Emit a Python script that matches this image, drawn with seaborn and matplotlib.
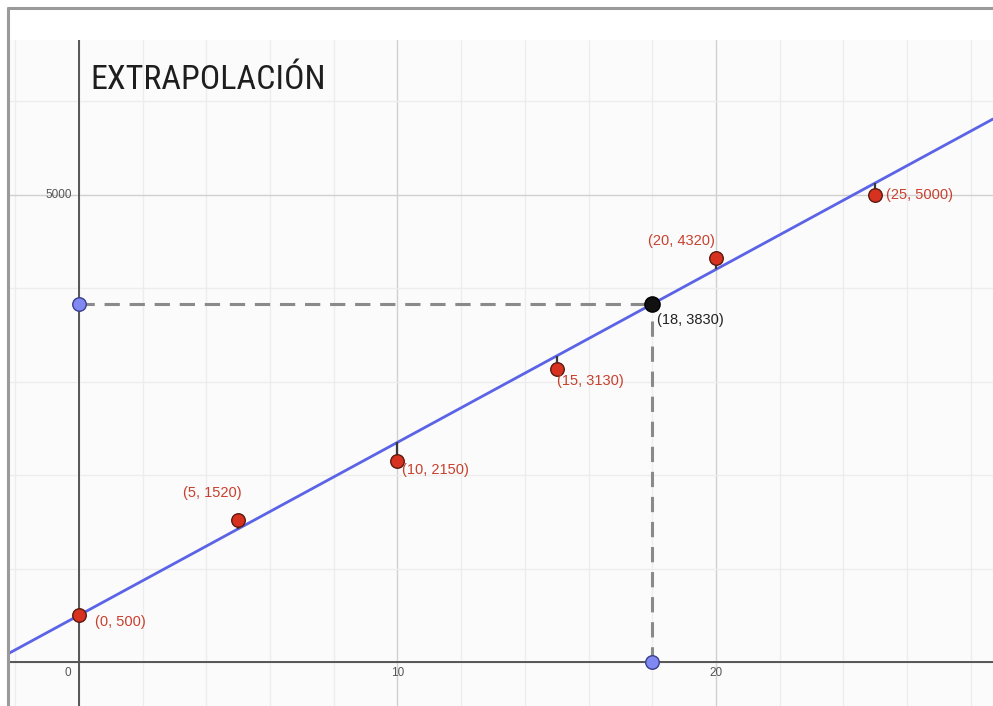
import numpy as np
import pandas as pd
import matplotlib
matplotlib.use("Agg")
import matplotlib.pyplot as plt
from matplotlib import font_manager
import seaborn as sns

# Observed data points
x_obs = [0, 5, 10, 15, 20, 25]
y_obs = [500, 1520, 2150, 3130, 4320, 5000]
obs_labels = ["(0, 500)", "(5, 1520)", "(10, 2150)", "(15, 3130)", "(20, 4320)", "(25, 5000)"]

# Fitted trend line y = intercept + slope * x
intercept = 500
slope = 185

# Extrapolated point
x_pred = 18
y_pred = 3830
pred_label = "(18, 3830)"

# Axis ticks
x_ticks = [0, 10, 20]
x_tick_labels = ["0", "10", "20"]
y_ticks = [5000]
y_tick_labels = ["5000"]

title_text = "EXTRAPOLACIÓN"

sns.set_theme(style="white")
plt.rcParams["font.family"] = ["Arial", "Liberation Sans", "DejaVu Sans"]

available = {f.name for f in font_manager.fontManager.ttflist}
title_family = next((n for n in ["Roboto Condensed", "Liberation Sans Narrow", "Open Sans Condensed"]
                     if n in available), "DejaVu Sans")

fig = plt.figure(figsize=(9.93, 7.06), dpi=100, facecolor="white")
ax = fig.add_axes([8 / 993, 0, 1 - 8 / 993, (706 - 40) / 706])
ax.set_facecolor("#fbfbfb")

xmin, xmax = -2.229, 28.70
ymin, ymax = -471, 6655
ax.set_xlim(xmin, xmax)
ax.set_ylim(ymin, ymax)

# Grid: minor every 2 (x) / 1000 (y), major every 10 (x) / 5000 (y)
for gx in np.arange(-2, 29, 2):
    major = gx % 10 == 0
    ax.axvline(gx, color="#d0d0d0" if major else "#ededed", lw=1.0, zorder=0)
for gy in np.arange(0, 7000, 1000):
    major = gy % 5000 == 0
    ax.axhline(gy, color="#d0d0d0" if major else "#ededed", lw=1.0, zorder=0)

# Main axes
ax.axvline(0, color="#555555", lw=1.4, zorder=1)
ax.axhline(0, color="#555555", lw=1.4, zorder=1)

for s in ax.spines.values():
    s.set_visible(False)
ax.set_xticks([])
ax.set_yticks([])

# Tick labels drawn next to the axes
for tx, tl in zip(x_ticks, x_tick_labels):
    dx = -11 if tx == 0 else 0
    ax.annotate(tl, (tx, 0), xytext=(dx, -11), textcoords="offset pixels",
                ha="center", va="center", fontsize=8.5, color="#555555")
for ty, tl in zip(y_ticks, y_tick_labels):
    ax.annotate(tl, (0, ty), xytext=(-7, 0), textcoords="offset pixels",
                ha="right", va="center", fontsize=8.5, color="#555555")

# Trend line across the view
line_df = pd.DataFrame({"x": [xmin, xmax]})
line_df["y"] = intercept + slope * line_df["x"]
sns.lineplot(data=line_df, x="x", y="y", ax=ax, color="#5b63e6", lw=2.0, zorder=3)

# Residual segments from each point to the line
for xv, yv in zip(x_obs, y_obs):
    ax.plot([xv, xv], [yv, intercept + slope * xv], color="#3a3a3a", lw=1.6, zorder=4,
            solid_capstyle="butt")

# Dashed projections of the extrapolated point
ax.plot([0, x_pred], [y_pred, y_pred], color="#8a8a8a", lw=2.2, ls=(0, (5, 3.2)), zorder=2)
ax.plot([x_pred, x_pred], [0, y_pred], color="#8a8a8a", lw=2.2, ls=(0, (5, 3.2)), zorder=2)

# Observed points
obs_df = pd.DataFrame({"x": x_obs, "y": y_obs})
sns.scatterplot(data=obs_df, x="x", y="y", ax=ax, s=95, color="#d7321f",
                edgecolor="#5a1a10", linewidth=1.0, zorder=6)

# Projection points on the axes
proj_df = pd.DataFrame({"x": [0, x_pred], "y": [y_pred, 0]})
sns.scatterplot(data=proj_df, x="x", y="y", ax=ax, s=95, color="#8088f2",
                edgecolor="#3a3f8a", linewidth=1.0, zorder=6)

# Extrapolated point
pred_df = pd.DataFrame({"x": [x_pred], "y": [y_pred]})
sns.scatterplot(data=pred_df, x="x", y="y", ax=ax, s=120, color="#111111",
                edgecolor="#000000", linewidth=1.0, zorder=7)

ax.set_xlabel("")
ax.set_ylabel("")

# Coordinate labels
label_offsets = [(16, -7, "left"), (-26, 27, "center"), (5, -9, "left"),
                 (0, -12, "left"), (-34, 17, "center"), (11, 0, "left")]
for xv, yv, lab, (dx, dy, ha) in zip(x_obs, y_obs, obs_labels, label_offsets):
    ax.annotate(lab, (xv, yv), xytext=(dx, dy), textcoords="offset pixels",
                ha=ha, va="center", fontsize=10.5, color="#c8402e", zorder=8)
ax.annotate(pred_label, (x_pred, y_pred), xytext=(5, -16), textcoords="offset pixels",
            ha="left", va="center", fontsize=10.5, color="#222222", zorder=8)

# Title
ax.annotate(title_text, (0, 1), xycoords=("data", "axes fraction"),
            xytext=(11, -40), textcoords="offset pixels", ha="left", va="center",
            fontsize=24.5, color="#1e1e1e", family=title_family, zorder=9)

# Window frame (top and left edges)
fig.add_artist(plt.Line2D([8 / 993, 1], [1 - 8 / 706, 1 - 8 / 706],
                          transform=fig.transFigure, color="#9a9a9a", lw=2.2))
fig.add_artist(plt.Line2D([8 / 993, 8 / 993], [0, 1 - 8 / 706],
                          transform=fig.transFigure, color="#9a9a9a", lw=2.2))

fig.savefig("out.png", dpi=100, facecolor="white")
